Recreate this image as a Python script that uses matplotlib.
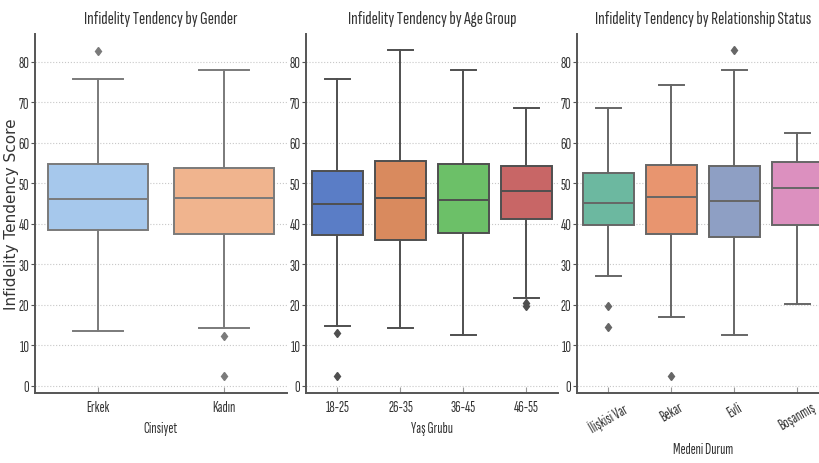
import matplotlib.pyplot as plt

# Box statistics (score 0-100)
gender_labels = ['Erkek', 'Kadın']
gender_q1 = [38.4, 37.6]
gender_med = [46.1, 46.3]
gender_q3 = [54.9, 53.8]
gender_lo = [13.4, 14.2]
gender_hi = [75.7, 78.0]
gender_fliers = [[82.8], [12.4, 2.5]]
gender_colors = ['#a6c8ec', '#f0b48e']

age_labels = ['18-25', '26-35', '36-45', '46-55']
age_q1 = [37.2, 36.1, 37.8, 41.1]
age_med = [44.8, 46.3, 45.8, 48.1]
age_q3 = [53.0, 55.5, 54.8, 54.2]
age_lo = [14.7, 14.2, 12.5, 21.7]
age_hi = [75.7, 83.0, 78.0, 68.7]
age_fliers = [[13.1, 2.5], [], [], [20.5, 19.6]]
age_colors = ['#5a7dc6', '#d98a5e', '#6cc068', '#c86666']

rel_labels = ['İlişkisi Var', 'Bekar', 'Evli', 'Boşanmış']
rel_q1 = [39.8, 37.5, 36.8, 39.7]
rel_med = [45.1, 46.6, 45.7, 48.8]
rel_q3 = [52.6, 54.6, 54.2, 55.3]
rel_lo = [27.1, 17.1, 12.5, 20.1]
rel_hi = [68.7, 74.2, 78.0, 62.5]
rel_fliers = [[19.7, 14.4], [2.5], [83.0], []]
rel_colors = ['#6cb8a0', '#e8956f', '#8e9fc4', '#dc90bf']

plt.rcParams['font.family'] = ['Sofia Sans Extra Condensed', 'DejaVu Sans']

panels = [
    ('Infidelity Tendency by Gender', 'Cinsiyet', gender_labels, gender_q1, gender_med,
     gender_q3, gender_lo, gender_hi, gender_fliers, gender_colors, '#7a7a7a', 0),
    ('Infidelity Tendency by Age Group', 'Yaş Grubu', age_labels, age_q1, age_med,
     age_q3, age_lo, age_hi, age_fliers, age_colors, '#4f4f4f', 0),
    ('Infidelity Tendency by Relationship Status', 'Medeni Durum', rel_labels, rel_q1, rel_med,
     rel_q3, rel_lo, rel_hi, rel_fliers, rel_colors, '#666666', 30),
]

fig = plt.figure(figsize=(8.2, 4.64), dpi=100)
lefts = [35, 306, 577]
W, H = 820, 464

for left, (title, xlabel, labels, q1, med, q3, lo, hi, fl, colors, gray, rot) in zip(lefts, panels):
    ax = fig.add_axes([left / W, 1 - 394 / H, 252 / W, (394 - 35) / H])
    stats = []
    for i in range(len(labels)):
        stats.append(dict(label=labels[i], q1=q1[i], med=med[i], q3=q3[i],
                          whislo=lo[i], whishi=hi[i], fliers=fl[i]))
    pos = list(range(len(labels)))
    bp = ax.bxp(stats, positions=pos, widths=0.8, patch_artist=True,
                boxprops=dict(edgecolor=gray, linewidth=1.4),
                medianprops=dict(color=gray, linewidth=1.4),
                whiskerprops=dict(color=gray, linewidth=1.4),
                capprops=dict(color=gray, linewidth=1.4),
                flierprops=dict(marker='d', markerfacecolor=gray, markeredgecolor=gray,
                                markersize=4.5))
    for patch, c in zip(bp['boxes'], colors):
        patch.set_facecolor(c)
    ax.set_xlim(-0.5, len(labels) - 0.5)
    ax.set_ylim(-1.8, 86.9)
    ax.set_yticks(range(0, 81, 10))
    ax.yaxis.grid(True, linestyle=':', color='#c8c8c8', linewidth=0.8)
    ax.set_axisbelow(True)
    for s in ['top', 'right']:
        ax.spines[s].set_visible(False)
    for s in ['left', 'bottom']:
        ax.spines[s].set_color('#555555')
        ax.spines[s].set_linewidth(1.4)
    ax.tick_params(axis='y', direction='out', length=3, color='#555555',
                   labelsize=11, labelcolor='#333333', pad=1)
    ax.tick_params(axis='x', direction='in', length=4, color='#999999',
                   labelsize=11, labelcolor='#333333', pad=5)
    if rot:
        plt.setp(ax.get_xticklabels(), rotation=rot, ha='center')
    ax.set_title(title, fontsize=13.5, color='#333333', pad=8)
    ax.set_xlabel(xlabel, fontsize=11, color='#333333', labelpad=5)

ax0 = fig.axes[0]
ax0.set_ylabel('Infidelity Tendency Score', fontsize=11, color='#333333',
               family=['DejaVu Sans'])
ax0.yaxis.set_label_coords(-0.063, 0.5)

fig.savefig('out.png', dpi=100)
